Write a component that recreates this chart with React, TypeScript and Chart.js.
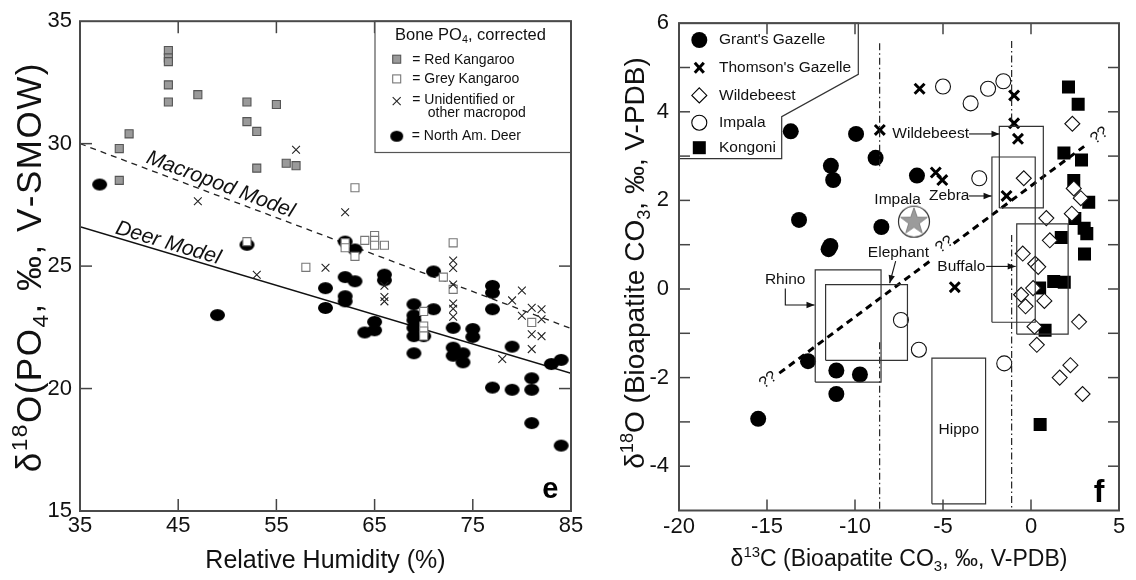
import React, { useEffect, useRef } from 'react';
import { Chart, registerables } from 'chart.js';

Chart.register(...registerables);

const FONT = '"Liberation Sans", Arial, Helvetica, sans-serif';
type Pt = [number, number];

// ---------------- Panel e : bone phosphate vs relative humidity ----------------
const rhTickValues = [35, 45, 55, 65, 75, 85];
const d18oTickValues = [15, 20, 25, 30, 35];

const redKangaroo: Pt[] = [
  [44, 33.8], [44, 33.5], [44, 33.35], [44, 32.4], [44, 31.7], [47, 32.0], [52, 31.7], [55, 31.6],
  [52, 30.9], [53, 30.5], [40, 30.4], [39, 29.8], [39, 28.5], [53, 29.0], [56, 29.2], [57, 29.1],
];
const greyKangaroo: Pt[] = [
  [63, 28.2], [52, 26.0], [58, 24.95], [62, 25.95], [62, 25.75], [63, 25.4], [64, 26.05], [65, 26.25],
  [65, 26.05], [65, 25.85], [66, 25.85], [73, 25.95], [72, 24.55], [73, 24.05], [70, 23.15],
  [70, 22.55], [70, 22.35], [70, 22.15], [81, 22.7],
];
const unidentifiedMacropod: Pt[] = [
  [57, 29.75], [47, 27.65], [53, 24.65], [60, 24.93], [62, 27.2], [66, 24.2], [66, 23.74], [66, 23.56],
  [73, 25.23], [73, 24.92], [73, 24.25], [73, 23.47], [73, 23.26], [73, 22.93], [80, 24.0], [79, 23.6],
  [81, 23.3], [82, 23.24], [80, 22.97], [82, 22.83], [81, 22.22], [82, 22.14], [81, 21.61], [78, 21.21],
];
const northAmDeer: Pt[] = [
  [37, 28.33], [52, 25.87], [49, 23.0], [60, 24.1], [60, 23.29], [62, 26.0], [63, 25.68], [62, 24.55],
  [63, 24.38], [62, 23.77], [62, 23.56], [64, 22.29], [65, 22.72], [65, 22.38], [66, 24.65], [66, 24.42],
  [71, 24.78], [71, 23.24], [69, 23.44], [69, 22.99], [69, 22.79], [69, 22.48], [69, 22.14], [69, 21.44],
  [70, 22.14], [73, 22.48], [73, 21.67], [73, 21.34], [74, 21.44], [74, 21.07], [75, 22.43], [75, 22.11],
  [77, 24.19], [77, 23.91], [77, 23.24], [77, 20.04], [79, 21.71], [79, 19.95], [81, 20.42], [81, 19.95],
  [81, 18.59], [83, 21.0], [84, 21.17], [84, 17.67],
];
const macropodModel: Pt[] = [[35, 30.0], [85, 22.45]];
const deerModel: Pt[] = [[35, 26.61], [85, 20.62]];

// ---------------- Panel f : bioapatite carbonate ----------------
const d13cTickValues = [-20, -15, -10, -5, 0, 5];
const grantsGazelle: Pt[] = [
  [-13.65, 3.56], [-9.94, 3.5], [-8.83, 2.96], [-11.37, 2.78], [-11.24, 2.46], [-6.48, 2.56],
  [-13.18, 1.56], [-8.5, 1.4], [-11.5, 0.9], [-11.4, 0.97], [-12.67, -1.63], [-11.06, -1.84],
  [-9.72, -1.93], [-11.06, -2.37], [-15.5, -2.93],
];
const thomsonsGazelle: Pt[] = [
  [-8.59, 3.59], [-6.33, 4.52], [-0.96, 4.37], [-0.96, 3.74], [-0.74, 3.39], [-5.41, 2.63],
  [-5.04, 2.46], [-1.39, 2.1], [-4.33, 0.04],
];
const wildebeest: Pt[] = [
  [2.35, 3.73], [-0.41, 2.5], [2.43, 2.27], [2.83, 2.05], [2.32, 1.7], [0.87, 1.6], [1.07, 1.1],
  [-0.47, 0.8], [0.24, 0.57], [0.41, 0.5], [0.12, 0.02], [-0.56, -0.13], [-0.31, -0.39], [0.76, -0.27],
  [0.2, -0.85], [0.33, -1.26], [2.73, -0.74], [2.24, -1.72], [1.63, -2.0], [2.93, -2.37],
];
const impala: Pt[] = [
  [-5.0, 4.57], [-3.43, 4.19], [-2.44, 4.52], [-1.57, 4.69], [-2.94, 2.5], [-7.39, -0.7],
  [-6.37, -1.37], [-1.52, -1.68],
];
const kongoni: Pt[] = [
  [2.13, 4.56], [2.68, 4.17], [1.87, 3.07], [2.87, 2.91], [2.43, 2.45], [3.28, 1.96], [2.49, 1.59],
  [3.02, 1.37], [3.17, 1.25], [1.72, 1.16], [3.04, 0.79], [1.29, 0.17], [1.89, 0.15], [0.49, 0.02],
  [0.8, -0.93], [0.52, -3.06],
];
const impalaMean: Pt[] = [[-6.65, 1.52]];

const rangeBoxNames = ['Rhino', 'Elephant', 'Wildebeest', 'Zebra', 'Buffalo', 'Hippo'];
const rangeBoxX: Pt[] = [[-12.26, -8.52], [-11.67, -7.02], [-1.8, 0.7], [-2.22, 0.24], [-0.81, 2.11], [-5.63, -2.58]];
const rangeBoxY: Pt[] = [[-2.1, 0.43], [-1.61, 0.1], [1.83, 3.67], [-0.75, 2.98], [-1.02, 1.47], [-4.85, -1.56]];

const trendLine: Pt[] = [[-14.3, -1.9], [3.02, 3.22]];
const trendGapX: Pt = [-5.7, -4.4];
const dashDotX = [-8.6, -1.1];
const dashDotSpans: Pt[][] = [[[5.55, 2.7], [-1.2, -5]], [[5.6, 3.67], [1.22, -5]]];

// annotation anchors (data units)
const fLabels = [
  { text: 'Wildebeest', at: [-7.88, 3.5], align: 'left', path: [[-3.52, 3.5], [-1.79, 3.5]] },
  { text: 'Zebra', at: [-5.8, 2.1], align: 'left', path: [[-3.53, 2.1], [-2.24, 2.1]] },
  { text: 'Impala', at: [-7.58, 2.01], align: 'center', path: null },
  { text: 'Elephant', at: [-9.27, 0.83], align: 'left', path: [[-7.69, 0.63], [-8.03, 0.13]] },
  { text: 'Rhino', at: [-15.12, 0.21], align: 'left', path: [[-13.96, 0.01], [-13.96, -0.36], [-12.3, -0.36]] },
  { text: 'Buffalo', at: [-5.32, 0.51], align: 'left', path: [[-2.55, 0.51], [-0.87, 0.51]] },
  { text: 'Hippo', at: [-4.1, -3.17], align: 'center', path: null },
];
const questionMarks: Pt[] = [[-14.93, -2.06], [-4.91, 1.0], [3.89, 3.46]];

// ---------------- helpers ----------------
const xy = (a: Pt[]) => a.map(([x, y]) => ({ x, y }));

type Seg = { t: string; s?: 'sup' | 'sub' };
function drawRich(ctx: any, segs: Seg[], x: number, y: number, size: number, align: string, rot = 0, spacing = 0, weight = 'normal') {
  ctx.save();
  ctx.translate(x, y);
  if (rot) ctx.rotate(rot);
  const small = size * 0.65;
  const chars: { c: string; s?: string; w: number }[] = [];
  for (const g of segs) {
    ctx.font = `${weight} ${g.s ? small : size}px ${FONT}`;
    if (spacing) {
      for (const c of Array.from(g.t)) chars.push({ c, s: g.s, w: ctx.measureText(c).width + spacing });
    } else {
      chars.push({ c: g.t, s: g.s, w: ctx.measureText(g.t).width });
    }
  }
  const w = chars.reduce((s, c) => s + c.w, 0) - spacing;
  let cx = align === 'center' ? -w / 2 : 0;
  ctx.textAlign = 'left';
  ctx.textBaseline = 'alphabetic';
  const base = size * 0.36;
  for (const ch of chars) {
    ctx.font = `${weight} ${ch.s ? small : size}px ${FONT}`;
    const dy = ch.s === 'sup' ? -size * 0.4 : ch.s === 'sub' ? size * 0.2 : 0;
    ctx.fillText(ch.c, cx, base + dy);
    cx += ch.w;
  }
  ctx.restore();
}

function line(ctx: any, x1: number, y1: number, x2: number, y2: number) {
  ctx.beginPath();
  ctx.moveTo(x1, y1);
  ctx.lineTo(x2, y2);
  ctx.stroke();
}

function arrowPath(ctx: any, pts: number[][]) {
  ctx.beginPath();
  ctx.moveTo(pts[0][0], pts[0][1]);
  for (let i = 1; i < pts.length; i++) ctx.lineTo(pts[i][0], pts[i][1]);
  ctx.stroke();
  const [ax, ay] = pts[pts.length - 2];
  const [bx, by] = pts[pts.length - 1];
  const ang = Math.atan2(by - ay, bx - ax);
  const L = 8, W = 3.2, c = Math.cos(ang), s = Math.sin(ang);
  ctx.beginPath();
  ctx.moveTo(bx, by);
  ctx.lineTo(bx - L * c + W * s, by - L * s - W * c);
  ctx.lineTo(bx - L * c - W * s, by - L * s + W * c);
  ctx.closePath();
  ctx.fill();
}

function makeEllipse(w: number, h: number) {
  const c = document.createElement('canvas');
  c.width = w + 2;
  c.height = h + 2;
  const g = c.getContext('2d')!;
  g.fillStyle = '#000';
  g.beginPath();
  g.ellipse((w + 2) / 2, (h + 2) / 2, w / 2, h / 2, 0, 0, Math.PI * 2);
  g.fill();
  return c;
}

function makeStarBadge() {
  const c = document.createElement('canvas');
  c.width = 36;
  c.height = 36;
  const g = c.getContext('2d')!;
  g.beginPath();
  g.arc(18, 18, 15.5, 0, Math.PI * 2);
  g.fillStyle = '#fff';
  g.fill();
  g.strokeStyle = '#333';
  g.lineWidth = 1.2;
  g.stroke();
  g.beginPath();
  for (let i = 0; i < 10; i++) {
    const r = i % 2 === 0 ? 14 : 5.6;
    const a = -Math.PI / 2 + (i * Math.PI) / 5;
    g.lineTo(18 + r * Math.cos(a), 18 + r * Math.sin(a));
  }
  g.closePath();
  g.fillStyle = '#9b9b9b';
  g.fill();
  g.strokeStyle = '#777';
  g.lineWidth = 0.8;
  g.stroke();
  return c;
}

function linearAxis(min: number, max: number, step: number, padding: number, cb: any, fit: (s: any) => void) {
  return {
    type: 'linear',
    min,
    max,
    ticks: {
      stepSize: step,
      autoSkip: false,
      maxRotation: 0,
      padding,
      color: '#111',
      font: { family: FONT, size: 22 },
      callback: cb,
    },
    grid: { display: false, drawTicks: false },
    border: { display: false },
    afterFit: fit,
  };
}

function innerTicks(ctx: any, chart: any, len: number) {
  const a = chart.chartArea;
  const xs = chart.scales.x, ys = chart.scales.y;
  ctx.strokeStyle = '#444';
  ctx.lineWidth = 1.5;
  xs.ticks.forEach((t: any) => {
    if (t.value <= xs.min || t.value >= xs.max) return;
    const p = xs.getPixelForValue(t.value);
    line(ctx, p, a.bottom, p, a.bottom - len);
    line(ctx, p, a.top, p, a.top + len);
  });
  ys.ticks.forEach((t: any) => {
    if (t.value <= ys.min || t.value >= ys.max) return;
    const p = ys.getPixelForValue(t.value);
    line(ctx, a.left, p, a.left + len, p);
    line(ctx, a.right, p, a.right - len, p);
  });
}

// ---------------- Panel e config ----------------
function leftConfig(): any {
  const deerImg = makeEllipse(15, 12);
  const legendDeer = makeEllipse(13, 11);
  const decor = {
    id: 'panelE',
    afterDatasetsDraw(chart: any) {
      const { ctx, chartArea: a } = chart;
      const xs = chart.scales.x, ys = chart.scales.y;
      ctx.save();
      innerTicks(ctx, chart, 12);

      // model labels along lines
      const lab = (model: Pt[], rh: number, text: string, off: number) => {
        const [p0, p1] = model;
        const v = p0[1] + ((rh - p0[0]) * (p1[1] - p0[1])) / (p1[0] - p0[0]);
        const X = xs.getPixelForValue(rh), Y = ys.getPixelForValue(v);
        const ang = Math.atan2(ys.getPixelForValue(p1[1]) - ys.getPixelForValue(p0[1]), xs.getPixelForValue(p1[0]) - xs.getPixelForValue(p0[0]));
        ctx.save();
        ctx.translate(X, Y);
        ctx.rotate(ang);
        ctx.font = `italic 21px ${FONT}`;
        ctx.fillStyle = '#111';
        ctx.textAlign = 'center';
        ctx.textBaseline = 'alphabetic';
        ctx.fillText(text, 0, -off);
        ctx.restore();
      };
      lab(macropodModel, 48.9, 'Macropod Model', 5.3);
      lab(deerModel, 43.7, 'Deer Model', 3.6);

      // legend box
      const lx = a.left + 295, ly = a.top, lw = a.right - lx, lh = 131.3;
      ctx.fillStyle = '#fff';
      ctx.fillRect(lx, ly, lw, lh);
      ctx.strokeStyle = '#555';
      ctx.lineWidth = 1.2;
      ctx.strokeRect(lx, ly, lw, lh);
      ctx.fillStyle = '#111';
      drawRich(ctx, [{ t: 'Bone PO' }, { t: '4', s: 'sub' }, { t: ', corrected' }], lx + 20, ly + 13, 16.5, 'left');
      const mx = lx + 21.7;
      ctx.fillStyle = '#9a9a9a';
      ctx.fillRect(mx - 4, ly + 38 - 4, 8, 8);
      ctx.strokeStyle = '#555';
      ctx.lineWidth = 1.1;
      ctx.strokeRect(mx - 4, ly + 38 - 4, 8, 8);
      ctx.fillStyle = '#fff';
      ctx.fillRect(mx - 4, ly + 57.7 - 4, 8, 8);
      ctx.strokeStyle = '#777';
      ctx.strokeRect(mx - 4, ly + 57.7 - 4, 8, 8);
      ctx.strokeStyle = '#222';
      ctx.lineWidth = 1.1;
      line(ctx, mx - 4, ly + 76, mx + 4, ly + 84);
      line(ctx, mx + 4, ly + 76, mx - 4, ly + 84);
      ctx.drawImage(legendDeer, mx - 7.5, ly + 115 - 6.5);
      ctx.fillStyle = '#111';
      ctx.font = `14px ${FONT}`;
      ctx.textAlign = 'left';
      ctx.textBaseline = 'middle';
      ctx.fillText('= Red Kangaroo', lx + 37.3, ly + 38.5);
      ctx.fillText('= Grey Kangaroo', lx + 37.3, ly + 58);
      ctx.fillText('= Unidentified or', lx + 37.3, ly + 79);
      ctx.fillText('other macropod', lx + 52.7, ly + 92.3);
      ctx.fillText('= North Am. Deer', lx + 36.7, ly + 115.3);

      // frame
      ctx.strokeStyle = '#4a4a4a';
      ctx.lineWidth = 2;
      ctx.strokeRect(a.left, a.top, a.right - a.left, a.bottom - a.top);

      // panel letter
      ctx.fillStyle = '#000';
      ctx.font = `bold 29px ${FONT}`;
      ctx.textAlign = 'right';
      ctx.textBaseline = 'alphabetic';
      ctx.fillText('e', a.right - 12.5, a.bottom - 13.5);

      // axis titles
      ctx.fillStyle = '#111';
      drawRich(ctx, [{ t: 'Relative Humidity (%)' }], (a.left + a.right) / 2, 559, 25, 'center');
      drawRich(ctx, [{ t: 'δ' }, { t: '18', s: 'sup' }, { t: 'O(PO' }, { t: '4', s: 'sub' }, { t: ', ‰, V-SMOW)' }], 28, 268, 35, 'center', -Math.PI / 2, 1.5);
      ctx.restore();
    },
  };

  return {
    type: 'scatter',
    data: {
      datasets: [
        { label: 'Unidentified or other macropod', data: xy(unidentifiedMacropod), pointStyle: 'crossRot', pointRadius: 5.5, borderColor: '#222', borderWidth: 1.1 },
        { label: 'Grey Kangaroo', data: xy(greyKangaroo), pointStyle: 'rect', pointRadius: 5.7, backgroundColor: '#fff', borderColor: '#777', borderWidth: 1.1 },
        { label: 'Red Kangaroo', data: xy(redKangaroo), pointStyle: 'rect', pointRadius: 5.7, backgroundColor: '#9a9a9a', borderColor: '#555', borderWidth: 1.1 },
        { label: 'North Am. Deer', data: xy(northAmDeer), pointStyle: deerImg, pointRadius: 7 },
        { label: 'Macropod Model', data: xy(macropodModel), showLine: true, pointRadius: 0, borderColor: '#222', borderWidth: 1.3, borderDash: [6, 5] },
        { label: 'Deer Model', data: xy(deerModel), showLine: true, pointRadius: 0, borderColor: '#111', borderWidth: 1.5 },
      ],
    },
    options: {
      responsive: false,
      animation: false,
      devicePixelRatio: 1,
      events: [],
      layout: { padding: { left: 0, top: 18, right: 29, bottom: 0 } },
      plugins: { legend: { display: false }, tooltip: { enabled: false } },
      scales: {
        x: linearAxis(35, 85, 10, 2, (v: number) => (rhTickValues.includes(v) ? String(v) : ''), (s: any) => { s.height = 69; }),
        y: linearAxis(15, 35, 5, 8, (v: number) => (d18oTickValues.includes(v) ? String(v) : ''), (s: any) => { s.width = 80; }),
      },
    },
    plugins: [decor],
  };
}

// ---------------- Panel f config ----------------
function rightConfig(): any {
  const star = makeStarBadge();
  const [[tx0, ty0], [tx1, ty1]] = trendLine;
  const trendAt = (x: number) => ty0 + ((x - tx0) * (ty1 - ty0)) / (tx1 - tx0);

  const decor = {
    id: 'panelF',
    afterDatasetsDraw(chart: any) {
      const { ctx, chartArea: a } = chart;
      const xs = chart.scales.x, ys = chart.scales.y;
      const P = (x: number, y: number) => [xs.getPixelForValue(x), ys.getPixelForValue(y)];
      ctx.save();

      // legend polygon
      const L = a.left, T = a.top;
      ctx.beginPath();
      ctx.moveTo(L, T);
      ctx.lineTo(L + 179.3, T);
      ctx.lineTo(L + 179.3, T + 51.2);
      ctx.lineTo(L + 102.7, T + 93.5);
      ctx.lineTo(L + 102.7, T + 135.5);
      ctx.lineTo(L, T + 135.5);
      ctx.closePath();
      ctx.fillStyle = '#fff';
      ctx.fill();
      ctx.strokeStyle = '#333';
      ctx.lineWidth = 1.2;
      ctx.stroke();
      const mx = L + 20.3;
      const rows = [16.8, 44.5, 72.2, 99.5, 124.5].map((v) => T + v);
      ctx.fillStyle = '#000';
      ctx.beginPath();
      ctx.arc(mx, rows[0], 8, 0, Math.PI * 2);
      ctx.fill();
      ctx.strokeStyle = '#000';
      ctx.lineWidth = 3;
      line(ctx, mx - 4.5, rows[1] - 5, mx + 4.5, rows[1] + 5);
      line(ctx, mx + 4.5, rows[1] - 5, mx - 4.5, rows[1] + 5);
      ctx.lineWidth = 1.1;
      ctx.beginPath();
      ctx.moveTo(mx, rows[2] - 7.5);
      ctx.lineTo(mx + 7.5, rows[2]);
      ctx.lineTo(mx, rows[2] + 7.5);
      ctx.lineTo(mx - 7.5, rows[2]);
      ctx.closePath();
      ctx.stroke();
      ctx.beginPath();
      ctx.arc(mx, rows[3], 7.5, 0, Math.PI * 2);
      ctx.stroke();
      ctx.fillRect(mx - 6.5, rows[4] - 6.5, 13, 13);
      ctx.fillStyle = '#111';
      ctx.font = `15.5px ${FONT}`;
      ctx.textAlign = 'left';
      ctx.textBaseline = 'middle';
      ["Grant's Gazelle", "Thomson's Gazelle", 'Wildebeest', 'Impala', 'Kongoni'].forEach((t, i) => ctx.fillText(t, L + 40, rows[i]));

      // inward ticks (drawn over legend, as in the original)
      innerTicks(ctx, chart, 11);

      // labels and leader arrows
      ctx.fillStyle = '#111';
      ctx.strokeStyle = '#111';
      ctx.lineWidth = 1.1;
      for (const lb of fLabels) {
        const [px, py] = P(lb.at[0], lb.at[1]);
        ctx.font = `15.5px ${FONT}`;
        ctx.textAlign = lb.align as any;
        ctx.textBaseline = 'middle';
        ctx.fillText(lb.text, px, py);
        if (lb.path) arrowPath(ctx, lb.path.map(([x, y]) => P(x, y)));
      }

      // question marks along the trend line
      const [ax, ay] = P(tx0, ty0), [bx, by] = P(tx1, ty1);
      const ang = Math.atan2(by - ay, bx - ax);
      ctx.font = `16px ${FONT}`;
      ctx.textAlign = 'center';
      ctx.textBaseline = 'middle';
      for (const [qx, qy] of questionMarks) {
        const [px, py] = P(qx, qy);
        ctx.save();
        ctx.translate(px, py);
        ctx.rotate(ang);
        ctx.fillText('??', 0, 0);
        ctx.restore();
      }

      // frame
      ctx.strokeStyle = '#4a4a4a';
      ctx.lineWidth = 2;
      ctx.strokeRect(a.left, a.top, a.right - a.left, a.bottom - a.top);

      // panel letter
      ctx.fillStyle = '#000';
      ctx.font = `bold 32px ${FONT}`;
      ctx.textAlign = 'right';
      ctx.textBaseline = 'alphabetic';
      ctx.fillText('f', a.right - 14.5, a.bottom - 9);

      // axis titles
      ctx.fillStyle = '#111';
      drawRich(ctx, [{ t: 'δ' }, { t: '13', s: 'sup' }, { t: 'C (Bioapatite CO' }, { t: '3', s: 'sub' }, { t: ', ‰, V-PDB)' }], (a.left + a.right) / 2, 558, 23, 'center');
      drawRich(ctx, [{ t: 'δ' }, { t: '18', s: 'sup' }, { t: 'O (Bioapatite CO' }, { t: '3', s: 'sub' }, { t: ', ‰, V-PDB)' }], 34, 263, 28, 'center', -Math.PI / 2);
      ctx.restore();
    },
  };

  const boxSets = rangeBoxNames.map((name, i) => {
    const [x0, x1] = rangeBoxX[i];
    const [y0, y1] = rangeBoxY[i];
    return {
      label: name + ' range',
      data: xy([[x0, y0], [x1, y0], [x1, y1], [x0, y1], [x0, y0]]),
      showLine: true,
      pointRadius: 0,
      borderColor: '#333',
      borderWidth: 1.2,
      tension: 0,
    };
  });
  const trendSets = [
    [tx0, trendGapX[0]],
    [trendGapX[1], tx1],
  ].map(([x0, x1]) => ({
    label: 'trend',
    data: xy([[x0, trendAt(x0)], [x1, trendAt(x1)]]),
    showLine: true,
    pointRadius: 0,
    borderColor: '#000',
    borderWidth: 3,
    borderDash: [7, 5],
  }));
  const dashDotSets: any[] = [];
  dashDotX.forEach((x, i) =>
    dashDotSpans[i].forEach(([y0, y1]) =>
      dashDotSets.push({
        label: 'ref',
        data: xy([[x, y0], [x, y1]]),
        showLine: true,
        pointRadius: 0,
        borderColor: '#222',
        borderWidth: 1.2,
        borderDash: [7, 3, 1.5, 3],
      })
    )
  );

  return {
    type: 'scatter',
    data: {
      datasets: [
        ...boxSets,
        ...trendSets,
        ...dashDotSets,
        { label: "Thomson's Gazelle", data: xy(thomsonsGazelle), pointStyle: 'crossRot', pointRadius: 7, borderColor: '#000', borderWidth: 3 },
        { label: 'Wildebeest', data: xy(wildebeest), pointStyle: 'rectRot', pointRadius: 7.5, backgroundColor: '#fff', borderColor: '#111', borderWidth: 1.1 },
        { label: 'Impala', data: xy(impala), pointStyle: 'circle', pointRadius: 7.5, backgroundColor: '#fff', borderColor: '#111', borderWidth: 1.1 },
        { label: 'Kongoni', data: xy(kongoni), pointStyle: 'rect', pointRadius: 9.2, backgroundColor: '#000', borderWidth: 0 },
        { label: "Grant's Gazelle", data: xy(grantsGazelle), pointStyle: 'circle', pointRadius: 8, backgroundColor: '#000', borderWidth: 0 },
        { label: 'Impala mean', data: xy(impalaMean), pointStyle: star, pointRadius: 16 },
      ],
    },
    options: {
      responsive: false,
      animation: false,
      devicePixelRatio: 1,
      events: [],
      layout: { padding: { left: 0, top: 15.5, right: 8, bottom: 0 } },
      plugins: { legend: { display: false }, tooltip: { enabled: false } },
      scales: {
        x: linearAxis(-20, 5, 5, 3, (v: number) => (d13cTickValues.includes(v) ? String(v) : ''), (s: any) => { s.height = 69.5; }),
        y: linearAxis(-5, 6, 1, 10, (v: number) => (v % 2 === 0 ? String(v) : ''), (s: any) => { s.width = 79; }),
      },
    },
    plugins: [decor],
  };
}

export default function App() {
  const leftRef = useRef<HTMLCanvasElement>(null);
  const rightRef = useRef<HTMLCanvasElement>(null);
  useEffect(() => {
    const c1 = new Chart(leftRef.current as any, leftConfig());
    const c2 = new Chart(rightRef.current as any, rightConfig());
    return () => {
      c1.destroy();
      c2.destroy();
    };
  }, []);
  return (
    <div style={{ position: 'absolute', left: 0, top: 0, width: 1136, height: 580, background: '#fff', overflow: 'hidden' }}>
      <canvas ref={leftRef} width={600} height={580} style={{ position: 'absolute', left: 0, top: 0, width: 600, height: 580 }} />
      <canvas ref={rightRef} width={536} height={580} style={{ position: 'absolute', left: 600, top: 0, width: 536, height: 580 }} />
    </div>
  );
}
